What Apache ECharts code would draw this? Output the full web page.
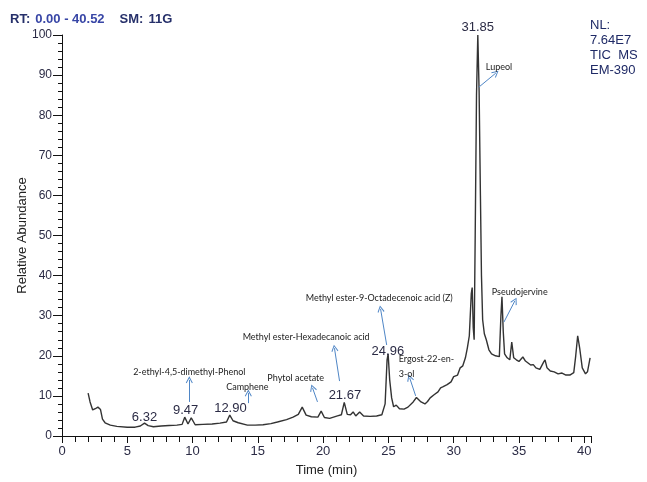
<!DOCTYPE html>
<html>
<head>
<meta charset="utf-8">
<script src="https://cdn.jsdelivr.net/npm/echarts@6/dist/echarts.min.js"></script>
<style>
  html, body { margin: 0; padding: 0; background: #fff; }
  #chart { width: 647px; height: 482px; }
</style>
</head>
<body>
<div id="chart"></div>
<script>
// ---- Data ----
const times = [2.0,2.15,2.35,2.55,2.75,2.95,3.1,3.3,3.7,4.2,5.0,5.6,6.0,6.32,6.6,7.0,7.6,8.2,8.8,9.2,9.4,9.65,9.9,10.2,10.8,11.5,12.1,12.6,12.85,13.1,13.5,14.2,14.8,15.4,16.0,16.5,17.2,17.7,18.1,18.4,18.7,19.1,19.6,19.85,20.1,20.5,21.1,21.4,21.62,21.85,22.1,22.3,22.5,22.8,23.1,23.6,24.1,24.5,24.75,24.9,24.98,25.1,25.25,25.4,25.6,25.85,26.2,26.5,26.9,27.15,27.3,27.5,27.8,28.0,28.2,28.5,28.8,29.0,29.2,29.5,29.8,30.0,30.3,30.5,30.7,30.9,31.05,31.2,31.35,31.42,31.5,31.57,31.65,31.75,31.85,31.95,32.05,32.13,32.22,32.35,32.5,32.7,32.9,33.2,33.5,33.62,33.7,33.8,33.9,34.1,34.3,34.45,34.6,34.8,35.0,35.3,35.5,35.7,35.9,36.1,36.3,36.6,36.9,37.0,37.15,37.4,37.7,38.0,38.3,38.6,38.9,39.2,39.35,39.5,39.65,39.85,40.1,40.25,40.45];
const abundance = [10.7,8.5,6.5,6.8,7.2,6.6,4.2,3.3,2.7,2.4,2.2,2.2,2.5,3.2,2.6,2.3,2.5,2.6,2.7,2.9,4.7,3.0,4.5,2.8,2.9,3.0,3.2,3.5,5.2,3.8,3.3,2.7,2.7,2.8,3.1,3.5,4.1,4.7,5.4,7.2,5.2,4.8,4.7,6.2,4.6,4.4,5.0,5.3,8.4,5.4,5.3,6.0,5.0,6.0,5.0,4.9,5.0,5.3,8,19,20.5,14,9.5,7.3,7.7,6.8,6.7,7.2,8.5,9.6,9.6,8.5,8.0,8.6,9.5,10.3,11.0,12.0,12.3,12.8,13.5,14.8,15.2,17.0,17.5,19.5,22,25,35.5,37,27,24,50,85,100,86,60,40,29,25.5,24,21.5,20.5,20,19.8,30,34.7,26,20.5,19.5,19,23.4,19.5,19,18.6,19.7,18.7,18.2,17.7,17.8,17,16.6,18.5,19,17,16.2,16,15.5,15.7,15.2,15.2,15.8,20,25,22,17,15.5,16,19.5];

// Peak retention-time labels
const peakLabels = ['6.32','9.47','12.90','21.67','24.96','31.85'];
const peakLabelTimes = [6.32, 9.47, 12.90, 21.67, 24.96, 31.85];
const peakLabelLevels = [4.7, 6.5, 7.0, 10.0, 21.0, 100];

// Compound annotations
const compoundNames = ['2-ethyl-4,5-dimethyl-Phenol','Camphene','Phytol acetate','Methyl ester-Hexadecanoic acid','Methyl ester-9-Octadecenoic acid (Z)','Ergost-22-en-','3-ol','Pseudojervine','Lupeol'];
const compoundTimes = [9.75, 14.2, 17.9, 18.7, 24.3, 25.79, 25.79, 32.92, 32.46];
const compoundLevels = [16.0, 12.2, 14.5, 24.7, 34.4, 19.2, 15.5, 35.9, 92.0];
const compoundAlign = ['center','center','center','center','center','left','left','left','left'];

// Arrows: from (time, abundance) to (time, abundance)
const arrowFromT = [9.75, 14.27, 19.57, 21.26, 24.87, 27.09, 33.85, 31.93];
const arrowFromA = [8.5, 8.2, 8.5, 13.7, 22.7, 10.0, 28.4, 87.0];
const arrowToT   = [9.75, 14.27, 19.19, 20.87, 24.40, 26.63, 34.69, 33.23];
const arrowToA   = [14.0, 10.7, 12.0, 21.9, 31.7, 14.5, 33.7, 90.5];

// Axis ticks
const xMin = 0, xMax = 40.52, xInterval = 5;
const yMin = 0, yMax = 100, yInterval = 10;

// ---- Chart ----
const chart = echarts.init(document.getElementById('chart'), null, {renderer: 'canvas'});
const series = times.map((t, i) => [t, abundance[i]]);

const peakMarks = peakLabels.map((txt, i) => ({
  name: txt,
  coord: [peakLabelTimes[i], peakLabelLevels[i]],
  label: { offset: peakLabelLevels[i] >= 100 ? [0, -8] : [0, 0] }
}));

const compoundMarks = compoundNames.map((txt, i) => ({
  name: txt,
  coord: [compoundTimes[i], compoundLevels[i]],
  label: {
    position: compoundAlign[i] === 'left' ? 'right' : 'inside',
    distance: 0
  }
}));

const arrows = arrowFromT.map((t, i) => [
  {coord: [t, arrowFromA[i]]},
  {coord: [arrowToT[i], arrowToA[i]]}
]);

const labelColor = '#2b2b45';

chart.setOption({
  animation: false,
  backgroundColor: '#fff',
  title: {
    left: 5, top: 5,
    text: '{k|RT:} {v|0.00 - 40.52}   {k|SM:} {k|11G}',
    textStyle: {
      rich: {
        k: {fontFamily: 'Liberation Sans', fontSize: 13, fontWeight: 'bold', color: '#26306a'},
        v: {fontFamily: 'Liberation Sans', fontSize: 13, fontWeight: 'bold', color: '#3846a6'}
      }
    }
  },
  graphic: [{
    type: 'text',
    left: 590, top: 18,
    style: {
      text: 'NL:\n7.64E7\nTIC  MS\nEM-390',
      fontFamily: 'Liberation Sans', fontSize: 13, lineHeight: 15,
      fill: '#1f2a66'
    }
  }],
  grid: {left: 62, right: 56, top: 35, bottom: 46},
  xAxis: {
    type: 'value', min: xMin, max: xMax, interval: xInterval,
    name: 'Time (min)', nameLocation: 'middle', nameGap: 28,
    nameTextStyle: {fontFamily: 'Liberation Sans', fontSize: 13, color: '#222'},
    axisLine: {show: true, onZero: false, lineStyle: {color: '#111', width: 1}},
    axisTick: {show: true, length: 7, lineStyle: {color: '#111'}},
    minorTick: {show: true, splitNumber: 5, length: 6, lineStyle: {color: '#111'}},
    axisLabel: {fontFamily: 'Liberation Sans', fontSize: 13, color: labelColor, margin: 9, showMaxLabel: false},
    splitLine: {show: false}
  },
  yAxis: {
    type: 'value', min: yMin, max: yMax, interval: yInterval,
    name: 'Relative Abundance', nameLocation: 'middle', nameGap: 33,
    nameMoveOverlap: false,
    nameTextStyle: {fontFamily: 'Liberation Sans', fontSize: 13, color: '#222'},
    axisLine: {show: true, lineStyle: {color: '#111', width: 1}},
    axisTick: {show: true, length: 9, lineStyle: {color: '#111'}},
    minorTick: {show: true, splitNumber: 5, length: 4, lineStyle: {color: '#111'}},
    axisLabel: {fontFamily: 'Liberation Sans', fontSize: 12, color: labelColor, margin: 10},
    splitLine: {show: false}
  },
  series: [{
    type: 'line',
    data: series,
    showSymbol: false,
    symbol: 'none',
    clip: false,
    lineStyle: {color: '#333', width: 1.4},
    markPoint: {
      symbol: 'circle', symbolSize: 0, silent: true,
      label: {show: true, formatter: '{b}', position: 'inside',
        fontFamily: 'Liberation Sans', fontSize: 13, color: labelColor},
      data: peakMarks
    },
    markLine: {
      silent: true,
      symbol: ['none', 'path://M5,0 L10,9 L8.8,10 L5,2.6 L1.2,10 L0,9 Z'],
      symbolSize: [7, 7],
      label: {show: false},
      lineStyle: {color: '#4f86c6', width: 1, type: 'solid'},
      emphasis: {disabled: true},
      data: arrows
    }
  }, {
    type: 'line',
    data: [],
    markPoint: {
      symbol: 'circle', symbolSize: 0, silent: true,
      label: {show: true, formatter: '{b}', position: 'inside',
        fontFamily: 'Lato', fontSize: 9, color: '#222'},
      data: compoundMarks
    }
  }]
});
</script>
</body>
</html>
